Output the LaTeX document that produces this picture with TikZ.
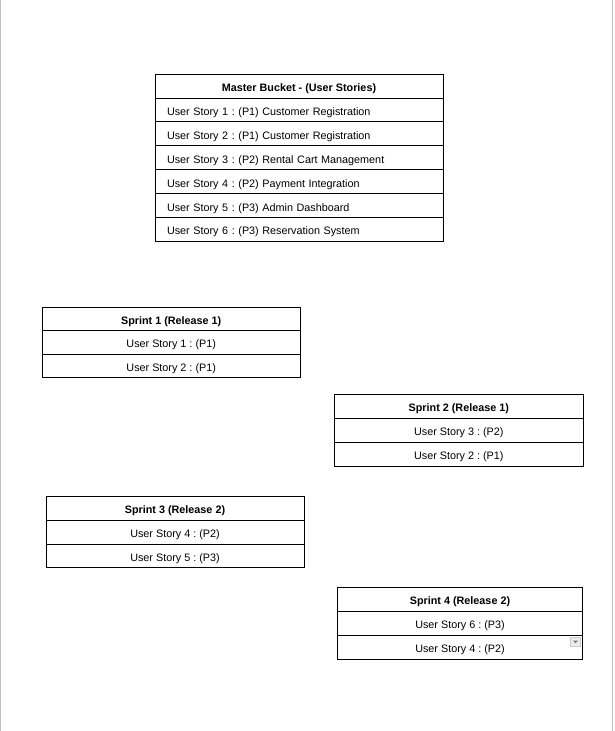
\documentclass[tikz,border=0pt]{standalone}
\usepackage{fontspec}
\setmainfont{Liberation Sans}
\frenchspacing
\begin{document}
\begin{tikzpicture}[x=1pt,y=-1pt,
  every node/.style={font=\fontsize{10.8}{12}\selectfont},
  cell/.style 2 args={draw=black, line width=0.9pt, minimum width=#1, minimum height=#2, text height=10.5pt, text depth=0pt, inner sep=0pt, anchor=center},
  lcell/.style={draw=black, line width=0.9pt, minimum height=23.96pt, text height=10.5pt, text depth=0pt, text width=264pt, inner xsep=12pt, inner ysep=0pt, align=left, anchor=center},
  head/.style={font=\fontsize{10.8}{12}\selectfont\bfseries},
  frame/.style={draw=black!25, line width=1pt}
]
\useasboundingbox (0,0) rectangle (615,731);
\draw[frame] (0.5,0) -- (0.5,731);
\draw[frame] (612.5,0) -- (612.5,731);

% Master bucket
\node[cell={288pt}{23.96pt}, head] (m0) at (299,85.98) {Master Bucket - (User Stories)};
\node[lcell] (m1) at (299,109.94) {User Story 1 : (P1) Customer Registration};
\node[lcell] (m2) at (299,133.9) {User Story 2 : (P1) Customer Registration};
\node[lcell] (m3) at (299,157.86) {User Story 3 : (P2) Rental Cart Management};
\node[lcell] (m4) at (299,181.82) {User Story 4 : (P2) Payment Integration};
\node[lcell] (m5) at (299,205.78) {User Story 5 : (P3) Admin Dashboard};
\node[lcell] (m6) at (299,229.74) {User Story 6 : (P3) Reservation System};

% Sprint 1
\node[cell={258pt}{23.47pt}, head] (s1h) at (171.2,319.03) {Sprint 1 (Release 1)};
\node[cell={258pt}{23.47pt}] (s1a) at (171.2,342.5) {User Story 1 : (P1)};
\node[cell={258pt}{23.47pt}] (s1b) at (171.2,365.97) {User Story 2 : (P1)};

% Sprint 2
\node[cell={249pt}{23.9pt}, head] (s2h) at (458.8,406.25) {Sprint 2 (Release 1)};
\node[cell={249pt}{23.9pt}] (s2a) at (458.8,430.15) {User Story 3 : (P2)};
\node[cell={249pt}{23.9pt}] (s2b) at (458.8,454.05) {User Story 2 : (P1)};

% Sprint 3
\node[cell={258pt}{23.67pt}, head] (s3h) at (175,508.53) {Sprint 3 (Release 2)};
\node[cell={258pt}{23.67pt}] (s3a) at (175,532.2) {User Story 4 : (P2)};
\node[cell={258pt}{23.67pt}] (s3b) at (175,555.87) {User Story 5 : (P3)};

% Sprint 4
\node[cell={245.4pt}{23.9pt}, head] (s4h) at (460,599.25) {Sprint 4 (Release 2)};
\node[cell={245.4pt}{23.9pt}] (s4a) at (460,623.15) {User Story 6 : (P3)};
\node[cell={245.4pt}{23.9pt}] (s4b) at (460,647.05) {User Story 4 : (P2)};

% dropdown marker
\fill[black!8] (570.5,637) rectangle (580.5,646.5);
\draw[black!20, line width=0.4pt] (570.5,637) rectangle (580.5,646.5);
\fill[black!55] (573,640.5) -- (578,640.5) -- (575.5,643.2) -- cycle;
\end{tikzpicture}
\end{document}
